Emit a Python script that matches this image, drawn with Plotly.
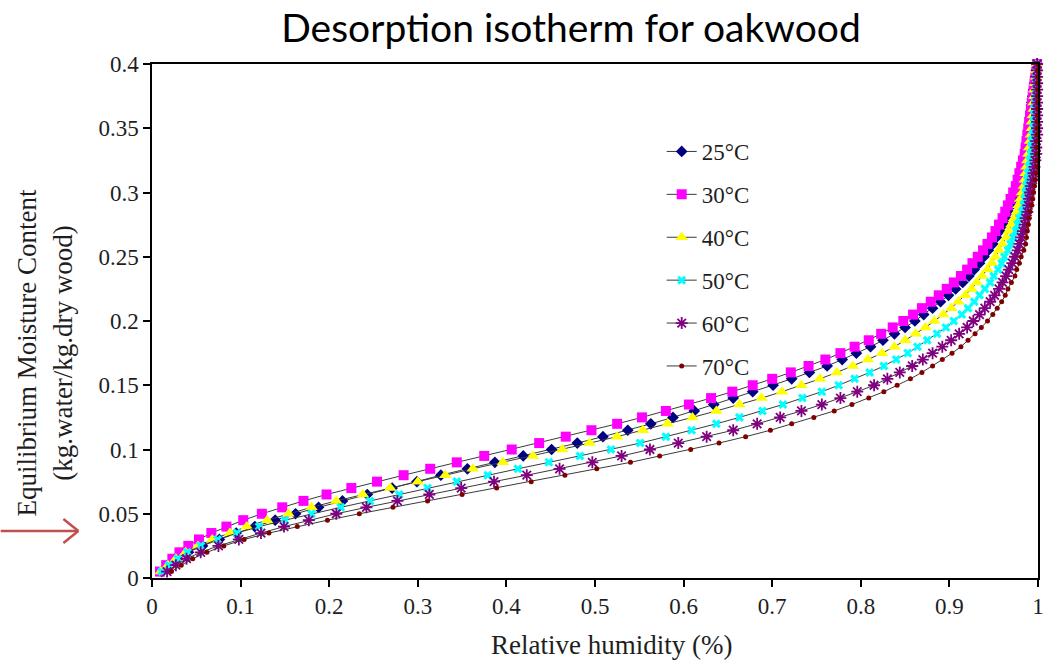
import plotly.graph_objects as go

# Equilibrium moisture content grid (kg water / kg dry wood)
emc = [0.005, 0.010, 0.015, 0.020, 0.025, 0.030, 0.035, 0.040, 0.045, 0.050,
       0.055, 0.060, 0.065, 0.070, 0.075, 0.080, 0.085, 0.090, 0.095, 0.100,
       0.105, 0.110, 0.115, 0.120, 0.125, 0.130, 0.135, 0.140, 0.145, 0.150,
       0.155, 0.160, 0.165, 0.170, 0.175, 0.180, 0.185, 0.190, 0.195, 0.200,
       0.205, 0.210, 0.215, 0.220, 0.225, 0.230, 0.235, 0.240, 0.245, 0.250,
       0.255, 0.260, 0.265, 0.270, 0.275, 0.280, 0.285, 0.290, 0.295, 0.300,
       0.305, 0.310, 0.315, 0.320, 0.325, 0.330, 0.335, 0.340, 0.345, 0.350,
       0.355, 0.360, 0.365, 0.370, 0.375, 0.380, 0.385, 0.390, 0.395, 0.400]

# Relative humidity for each temperature
rh_25 = [0.011, 0.020, 0.029, 0.041, 0.057, 0.076, 0.095, 0.116, 0.139, 0.162,
         0.188, 0.215, 0.243, 0.271, 0.299, 0.326, 0.356, 0.387, 0.419, 0.451,
         0.480, 0.509, 0.537, 0.563, 0.588, 0.612, 0.634, 0.656, 0.678, 0.701,
         0.722, 0.742, 0.762, 0.779, 0.795, 0.811, 0.825, 0.838, 0.850, 0.861,
         0.871, 0.881, 0.890, 0.899, 0.907, 0.915, 0.922, 0.928, 0.934, 0.939,
         0.944, 0.949, 0.953, 0.957, 0.961, 0.964, 0.967, 0.970, 0.973, 0.976,
         0.977, 0.979, 0.981, 0.983, 0.985, 0.986, 0.987, 0.988, 0.989, 0.990,
         0.991, 0.992, 0.993, 0.993, 0.994, 0.995, 0.996, 0.997, 0.998, 0.999]

rh_30 = [0.009, 0.016, 0.023, 0.031, 0.041, 0.053, 0.067, 0.084, 0.103, 0.124,
         0.147, 0.171, 0.197, 0.225, 0.254, 0.284, 0.314, 0.344, 0.375, 0.406,
         0.437, 0.467, 0.496, 0.525, 0.553, 0.580, 0.606, 0.631, 0.655, 0.678,
         0.700, 0.721, 0.741, 0.760, 0.777, 0.793, 0.809, 0.823, 0.836, 0.848,
         0.859, 0.869, 0.879, 0.888, 0.897, 0.905, 0.913, 0.920, 0.926, 0.932,
         0.938, 0.943, 0.948, 0.952, 0.956, 0.960, 0.963, 0.966, 0.969, 0.972,
         0.975, 0.977, 0.979, 0.981, 0.983, 0.985, 0.986, 0.987, 0.988, 0.989,
         0.990, 0.991, 0.992, 0.993, 0.994, 0.995, 0.996, 0.997, 0.998, 0.999]

rh_40 = [0.010, 0.018, 0.027, 0.038, 0.052, 0.068, 0.088, 0.107, 0.130, 0.154,
         0.180, 0.208, 0.238, 0.269, 0.300, 0.331, 0.362, 0.396, 0.430, 0.463,
         0.494, 0.525, 0.554, 0.582, 0.610, 0.637, 0.663, 0.688, 0.711, 0.733,
         0.754, 0.773, 0.791, 0.808, 0.824, 0.838, 0.850, 0.862, 0.873, 0.883,
         0.893, 0.902, 0.910, 0.918, 0.925, 0.931, 0.937, 0.943, 0.948, 0.952,
         0.956, 0.960, 0.964, 0.967, 0.970, 0.973, 0.976, 0.978, 0.980, 0.982,
         0.984, 0.985, 0.986, 0.987, 0.988, 0.989, 0.990, 0.991, 0.992, 0.993,
         0.993, 0.994, 0.995, 0.995, 0.996, 0.996, 0.997, 0.998, 0.998, 0.999]

rh_50 = [0.011, 0.019, 0.029, 0.040, 0.055, 0.074, 0.096, 0.121, 0.150, 0.180,
         0.213, 0.246, 0.279, 0.311, 0.344, 0.379, 0.413, 0.448, 0.483, 0.518,
         0.551, 0.580, 0.609, 0.637, 0.663, 0.689, 0.712, 0.734, 0.756, 0.775,
         0.793, 0.810, 0.826, 0.840, 0.853, 0.864, 0.875, 0.886, 0.896, 0.905,
         0.914, 0.921, 0.928, 0.934, 0.940, 0.946, 0.950, 0.955, 0.959, 0.962,
         0.966, 0.969, 0.972, 0.975, 0.977, 0.979, 0.982, 0.984, 0.985, 0.986,
         0.987, 0.988, 0.989, 0.990, 0.991, 0.992, 0.993, 0.993, 0.994, 0.995,
         0.995, 0.996, 0.996, 0.997, 0.997, 0.998, 0.998, 0.998, 0.999, 0.999]

rh_60 = [0.017, 0.027, 0.039, 0.055, 0.075, 0.098, 0.123, 0.149, 0.177, 0.208,
         0.242, 0.277, 0.313, 0.349, 0.386, 0.423, 0.460, 0.497, 0.530, 0.562,
         0.594, 0.626, 0.656, 0.683, 0.709, 0.733, 0.756, 0.777, 0.796, 0.815,
         0.830, 0.844, 0.858, 0.870, 0.881, 0.892, 0.902, 0.911, 0.920, 0.927,
         0.934, 0.940, 0.946, 0.951, 0.956, 0.960, 0.964, 0.967, 0.971, 0.974,
         0.977, 0.979, 0.981, 0.983, 0.985, 0.986, 0.988, 0.989, 0.990, 0.991,
         0.992, 0.994, 0.995, 0.996, 0.997, 0.998, 0.998, 0.998, 0.999, 0.999,
         0.999, 0.999, 0.999, 0.999, 0.999, 0.999, 0.999, 0.999, 0.999, 0.999]

rh_70 = [0.022, 0.033, 0.046, 0.062, 0.081, 0.104, 0.132, 0.164, 0.198, 0.234,
         0.272, 0.311, 0.350, 0.389, 0.428, 0.466, 0.502, 0.540, 0.573, 0.608,
         0.640, 0.670, 0.698, 0.722, 0.747, 0.770, 0.790, 0.809, 0.826, 0.841,
         0.856, 0.869, 0.881, 0.892, 0.903, 0.913, 0.921, 0.929, 0.936, 0.943,
         0.949, 0.954, 0.959, 0.963, 0.966, 0.970, 0.974, 0.976, 0.979, 0.981,
         0.984, 0.986, 0.987, 0.988, 0.989, 0.990, 0.991, 0.993, 0.994, 0.995,
         0.996, 0.997, 0.998, 0.999, 0.999, 0.999, 0.999, 0.999, 0.999, 0.999,
         0.999, 1.000, 1.000, 1.000, 1.000, 1.000, 1.000, 1.000, 1.000, 1.000]

series_names = ["25°C", "30°C", "40°C", "50°C", "60°C", "70°C"]
series_values = [rh_25, rh_30, rh_40, rh_50, rh_60, rh_70]

x_tick_vals = [0, 0.1, 0.2, 0.3, 0.4, 0.5, 0.6, 0.7, 0.8, 0.9, 1.0]
x_tick_text = ["0", "0.1", "0.2", "0.3", "0.4", "0.5", "0.6", "0.7", "0.8", "0.9", "1"]
y_tick_vals = [0, 0.05, 0.1, 0.15, 0.2, 0.25, 0.3, 0.35, 0.4]
y_tick_text = ["0", "0.05", "0.1", "0.15", "0.2", "0.25", "0.3", "0.35", "0.4"]

styles = [
    dict(symbol="diamond", color="#000080", size=9),
    dict(symbol="square", color="#FF00FF", size=10),
    dict(symbol="triangle-up", color="#FFFF00", size=11),
    dict(symbol="x", color="#00FFFF", size=8),
    dict(symbol="asterisk-open", color="#800080", size=10, line=dict(color="#800080", width=1.8)),
    dict(symbol="circle", color="#800000", size=5),
]

W, H = 1056, 661
L, R, T, B = 152, 14, 64, 83
pw, ph = W - L - R, H - T - B

def px_x(p):
    return (p - L) / pw

def px_y(p):
    return (H - B - p) / ph

serif = "Times New Roman, Liberation Serif, serif"
txt = "#1e1e1e"

fig = go.Figure()
for i, (name, vals) in enumerate(zip(series_names, series_values)):
    fig.add_trace(go.Scatter(
        x=vals, y=emc, name=name, mode="lines+markers",
        line=dict(color="#3a3a3a", width=1),
        marker=styles[i], legendgroup=name, cliponaxis=False,
    ))

def axis_style():
    return dict(
        showline=True, mirror=True, linecolor="black", linewidth=1.5,
        ticks="outside", ticklen=7, tickwidth=1.5, tickcolor="black",
        showgrid=False, zeroline=False,
        tickfont=dict(family=serif, size=23, color=txt),
    )

fig.update_layout(
    width=W, height=H, autosize=False,
    font=dict(family=serif, size=23, color=txt),
    margin=dict(l=L, r=R, t=T, b=B),
    paper_bgcolor="white", plot_bgcolor="white",
    title=dict(text="Desorption isotherm for oakwood", xref="container", yref="container",
               x=571 / W, y=1 - 28 / H, xanchor="center", yanchor="middle",
               font=dict(family="Lato", size=39, color="black")),
    xaxis=dict(range=[0, 1], tickvals=x_tick_vals, ticktext=x_tick_text, **axis_style()),
    yaxis=dict(range=[0, 0.4], tickvals=y_tick_vals, ticktext=y_tick_text, **axis_style()),
    legend=dict(x=px_x(664), y=px_y(130), xanchor="left", yanchor="top",
                font=dict(family=serif, size=23, color=txt),
                tracegroupgap=10, bgcolor="rgba(0,0,0,0)"),
    showlegend=True,
)

fig.add_annotation(text="Relative humidity (%)", xref="paper", yref="paper",
                   x=px_x(614), y=px_y(645), xanchor="center", yanchor="middle",
                   showarrow=False, font=dict(family=serif, size=27, color=txt))
fig.add_annotation(text="Equilibrium Moisture Content<br>(kg.water/kg.dry wood)",
                   xref="paper", yref="paper", x=px_x(44), y=px_y(353),
                   xanchor="center", yanchor="middle", textangle=-90,
                   showarrow=False, font=dict(family=serif, size=27, color=txt))

# red pointer arrow at left
arrow_col = "#C0504D"
fig.add_shape(type="line", xref="paper", yref="paper", x0=px_x(0), y0=px_y(531),
              x1=px_x(78), y1=px_y(531), line=dict(color=arrow_col, width=2.5))
fig.add_shape(type="line", xref="paper", yref="paper", x0=px_x(63), y0=px_y(519),
              x1=px_x(78), y1=px_y(531), line=dict(color=arrow_col, width=2.5))
fig.add_shape(type="line", xref="paper", yref="paper", x0=px_x(63), y0=px_y(543),
              x1=px_x(78), y1=px_y(531), line=dict(color=arrow_col, width=2.5))

fig.write_html("out.html")
